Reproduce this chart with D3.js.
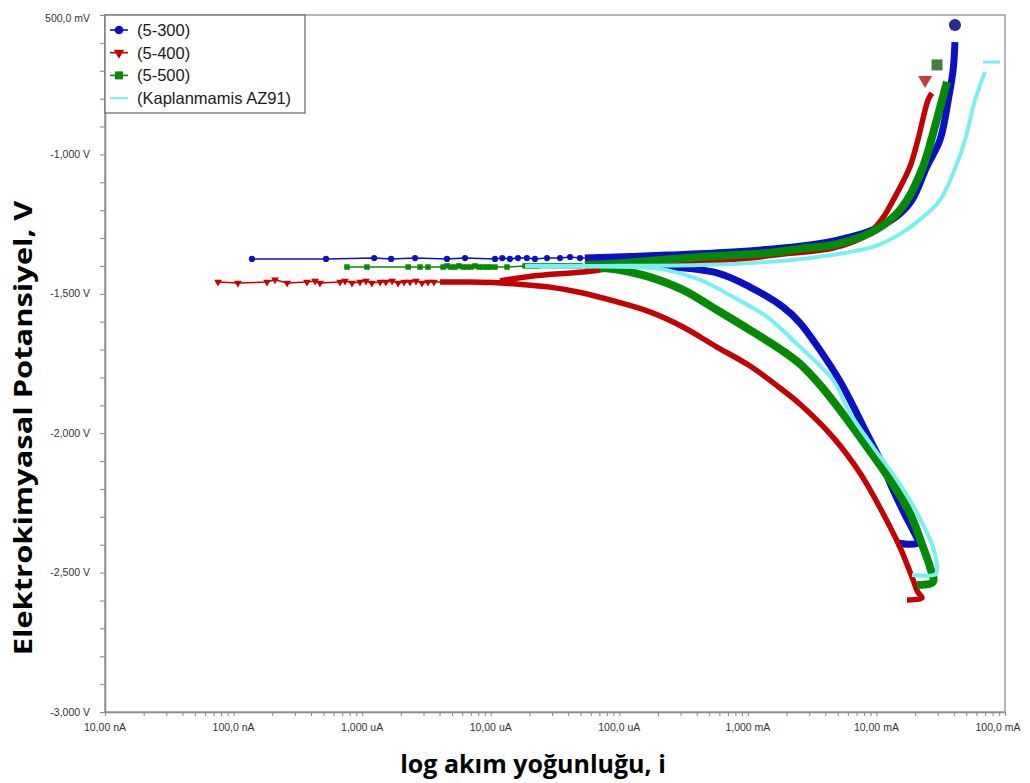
<!DOCTYPE html>
<html>
<head>
<meta charset="utf-8">
<script src="https://cdn.jsdelivr.net/npm/d3@7"></script>
<style>
  body { margin: 0; background: #fff; }
  svg { display: block; }
</style>
</head>
<body>
<svg id="chart" width="1030" height="783"></svg>
<script>
// Potentiodynamic polarisation curves: [current (A), potential (V)]
const seriesNames = ["(5-300)", "(5-400)", "(5-500)", "(Kaplanmamis AZ91)"];

// 5-300 coating
const sparse300 = [[1.39e-7,-1.375],[5.24e-7,-1.375],[1.24e-6,-1.372],[1.68e-6,-1.375],[2.58e-6,-1.372],
  [4.57e-6,-1.375],[6.31e-6,-1.372],[1.08e-5,-1.375],[1.23e-5,-1.372],[1.41e-5,-1.375],[1.63e-5,-1.372],
  [1.91e-5,-1.372],[2.21e-5,-1.375],[2.74e-5,-1.372],[3.46e-5,-1.372],[4.14e-5,-1.368],[4.94e-5,-1.372]];
const anodic300 = [[5.40e-5,-1.372],[2.35e-4,-1.361],[7.66e-4,-1.350],[2.55e-3,-1.329],[4.59e-3,-1.311],
  [8.91e-3,-1.275],[1.45e-2,-1.221],[1.89e-2,-1.164],[2.46e-2,-1.045],[3.12e-2,-0.948],[3.62e-2,-0.805],
  [3.95e-2,-0.697],[4.08e-2,-0.597]];
const cathodic300 = [[7.08e-5,-1.386],[1.73e-4,-1.397],[5.75e-4,-1.425],[1.04e-3,-1.476],[1.87e-3,-1.547],
  [2.55e-3,-1.605],[3.64e-3,-1.702],[5.14e-3,-1.809],[6.54e-3,-1.899],[8.30e-3,-1.995],[1.07e-2,-2.096],
  [1.35e-2,-2.204],[1.67e-2,-2.293],[1.92e-2,-2.347],[2.10e-2,-2.394],[1.45e-2,-2.394]];

// 5-400 coating
const sparse400 = [[7.57e-8,-1.458],[1.08e-7,-1.461],[1.82e-7,-1.458],[2.10e-7,-1.450],[2.61e-7,-1.461],
  [3.72e-7,-1.458],[4.30e-7,-1.454],[4.70e-7,-1.461],[6.73e-7,-1.458],[7.36e-7,-1.454],[8.34e-7,-1.461],
  [9.62e-7,-1.458],[1.07e-6,-1.454],[1.19e-6,-1.461],[1.38e-6,-1.458],[1.53e-6,-1.458],[1.71e-6,-1.454],
  [1.90e-6,-1.461],[2.12e-6,-1.458],[2.36e-6,-1.458],[2.62e-6,-1.454],[2.92e-6,-1.461],[3.25e-6,-1.458],
  [3.62e-6,-1.458]];
const anodic400 = [[1.18e-5,-1.454],[2.13e-5,-1.436],[5.22e-5,-1.422],[9.59e-5,-1.407],[3.13e-4,-1.390],
  [1.04e-3,-1.372],[1.87e-3,-1.357],[4.59e-3,-1.336],[8.45e-3,-1.289],[1.12e-2,-1.228],[1.35e-2,-1.164],
  [1.82e-2,-1.045],[2.10e-2,-0.948],[2.52e-2,-0.805],[2.70e-2,-0.780]];
const cathodic400 = [[4.04e-6,-1.458],[6.90e-6,-1.458],[1.18e-5,-1.461],[1.60e-5,-1.465],[2.89e-5,-1.476],
  [5.22e-5,-1.497],[9.59e-5,-1.529],[1.73e-4,-1.565],[3.13e-4,-1.619],[5.75e-4,-1.691],[1.04e-3,-1.759],
  [1.78e-3,-1.838],[2.55e-3,-1.896],[4.59e-3,-2.014],[7.45e-3,-2.143],[1.12e-2,-2.286],[1.52e-2,-2.408],
  [1.89e-2,-2.516],[2.10e-2,-2.570],[2.26e-2,-2.591],[1.73e-2,-2.598]];

// 5-500 coating
const sparse500 = [[7.62e-7,-1.404],[1.09e-6,-1.404],[2.28e-6,-1.404],[2.82e-6,-1.404],[3.25e-6,-1.404],
  [4.26e-6,-1.404],[4.57e-6,-1.400],[4.91e-6,-1.404],[5.27e-6,-1.404],[5.66e-6,-1.400],[6.09e-6,-1.404],
  [6.54e-6,-1.404],[7.03e-6,-1.404],[7.55e-6,-1.400],[8.11e-6,-1.404],[8.71e-6,-1.404],[9.36e-6,-1.404],
  [9.87e-6,-1.404],[1.08e-5,-1.404],[1.34e-5,-1.404],[1.85e-5,-1.400],[2.02e-5,-1.400],[2.21e-5,-1.400],
  [2.42e-5,-1.400],[2.64e-5,-1.400],[2.89e-5,-1.400],[3.16e-5,-1.400],[3.46e-5,-1.400],[3.78e-5,-1.400],
  [4.14e-5,-1.400],[4.52e-5,-1.400],[4.94e-5,-1.400]];
const anodic500 = [[5.40e-5,-1.397],[1.01e-4,-1.390],[4.25e-4,-1.368],[1.41e-3,-1.354],[2.55e-3,-1.339],
  [4.59e-3,-1.325],[8.91e-3,-1.282],[1.35e-2,-1.225],[1.73e-2,-1.164],[2.30e-2,-1.045],[2.67e-2,-0.948],
  [3.24e-2,-0.805],[3.54e-2,-0.740]];
const cathodic500 = [[7.08e-5,-1.407],[1.01e-4,-1.415],[1.73e-4,-1.440],[3.13e-4,-1.486],[5.75e-4,-1.558],
  [1.04e-3,-1.630],[1.87e-3,-1.705],[2.55e-3,-1.752],[3.64e-3,-1.827],[5.21e-3,-1.917],[8.45e-3,-2.049],
  [1.28e-2,-2.168],[1.82e-2,-2.286],[2.30e-2,-2.408],[2.61e-2,-2.480],[2.75e-2,-2.534],[2.07e-2,-2.544]];

// Uncoated AZ91
const sparseAZ91 = [];
const anodicAZ91 = [[1.85e-5,-1.400],[7.08e-5,-1.400],[4.25e-4,-1.397],[1.41e-3,-1.386],[3.45e-3,-1.368],
  [9.40e-3,-1.332],[1.52e-2,-1.286],[2.30e-2,-1.225],[3.12e-2,-1.164],[4.13e-2,-1.045],[4.89e-2,-0.948],
  [5.85e-2,-0.805],[6.98e-2,-0.704]];
const cathodicAZ91 = [[2.42e-5,-1.404],[1.28e-4,-1.404],[2.35e-4,-1.415],[4.25e-4,-1.450],[7.66e-4,-1.511],
  [1.41e-3,-1.583],[2.55e-3,-1.691],[4.59e-3,-1.809],[6.22e-3,-1.928],[9.40e-3,-2.049],[1.45e-2,-2.168],
  [2.07e-2,-2.286],[2.75e-2,-2.408],[2.96e-2,-2.480],[2.90e-2,-2.505],[1.89e-2,-2.509]];

// Series end markers at the top right
const endMarkers = [[4.08e-2,-0.536],[2.39e-2,-0.733],[2.96e-2,-0.679],[7.85e-2,-0.669]];

// Axis ticks
const xMajorTicks = [1e-8,1e-7,1e-6,1e-5,1e-4,1e-3,1e-2,1e-1];
const xTickLabels = ["10,00 nA","100,0 nA","1,000 uA","10,00 uA","100,0 uA","1,000 mA","10,00 mA","100,0 mA"];
const yMajorTicks = [-3.0,-2.5,-2.0,-1.5,-1.0,-0.5];
const yTickLabels = ["-3,000 V","-2,500 V","-2,000 V","-1,500 V","-1,000 V","500,0 mV"];

const series = [
  {name: seriesNames[0], sparse: sparse300, anodic: anodic300, cathodic: cathodic300,
   color: "#0c10c4", band: 7, symbol: d3.symbolCircle, size: 30, rot: 0, end: "#2b2b96"},
  {name: seriesNames[1], sparse: sparse400, anodic: anodic400, cathodic: cathodic400,
   color: "#c40000", band: 5.5, symbol: d3.symbolTriangle, size: 26, rot: 180, end: "#c43c3c"},
  {name: seriesNames[2], sparse: sparse500, anodic: anodic500, cathodic: cathodic500,
   color: "#058a05", band: 8, symbol: d3.symbolSquare, size: 30, rot: 0, end: "#437f3f"},
  {name: seriesNames[3], sparse: sparseAZ91, anodic: anodicAZ91, cathodic: cathodicAZ91,
   color: "#78f0f0", band: 4, symbol: null, size: 0, rot: 0, end: "#78f0f0"}
];

const svg = d3.select("#chart");
const plotLeft = 105, plotRight = 1005, plotTop = 15, plotBottom = 712;

const x = d3.scaleLog().domain([1e-8, 1e-1]).range([plotLeft, plotRight]);
const y = d3.scaleLinear().domain([-3, -0.5]).range([plotBottom, plotTop]);

// plot frame
svg.append("rect")
  .attr("x", plotLeft).attr("y", plotTop)
  .attr("width", plotRight - plotLeft).attr("height", plotBottom - plotTop)
  .attr("fill", "none").attr("stroke", "#a0a0a0").attr("stroke-width", 1.5);

// y axis: minor ticks every 100 mV
const yMinor = d3.range(0, 26).map(i => -3 + i * 0.1);
const yAxis = svg.append("g").attr("transform", `translate(${plotLeft},0)`)
  .call(d3.axisLeft(y).tickValues(yMinor).tickSize(5).tickSizeOuter(0).tickFormat(""));
yAxis.select(".domain").attr("stroke", "#8c8c8c").attr("stroke-width", 1.6);
yAxis.selectAll(".tick line").attr("stroke", "#8c8c8c").attr("stroke-width", 1.1);

svg.append("g").selectAll("text").data(yMajorTicks).join("text")
  .attr("x", 90)
  .attr("y", d => Math.max(y(d), 18))
  .attr("dy", "0.35em")
  .attr("text-anchor", "end")
  .attr("font-family", "Liberation Sans, Arial, sans-serif")
  .attr("font-size", 10.5)
  .attr("fill", "#333")
  .text((d, i) => yTickLabels[i]);

// x axis: log minor ticks
const xMinor = x.ticks();
const xAxis = svg.append("g").attr("transform", `translate(0,${plotBottom})`)
  .call(d3.axisBottom(x).tickValues(xMinor).tickSize(4).tickSizeOuter(0).tickFormat(""));
xAxis.select(".domain").attr("stroke", "#8c8c8c").attr("stroke-width", 1.6);
xAxis.selectAll(".tick line").attr("stroke", "#8c8c8c").attr("stroke-width", 1.1);

svg.append("g").selectAll("text").data(xMajorTicks).join("text")
  .attr("x", d => Math.min(x(d), 998))
  .attr("y", 731)
  .attr("text-anchor", "middle")
  .attr("font-family", "Liberation Sans, Arial, sans-serif")
  .attr("font-size", 10.5)
  .attr("fill", "#333")
  .text((d, i) => xTickLabels[i]);

// curves
const line = d3.line().x(d => x(d[0])).y(d => y(d[1])).curve(d3.curveCatmullRom.alpha(0.5));
const thin = d3.line().x(d => x(d[0])).y(d => y(d[1]));

const plot = svg.append("g");
series.forEach(s => {
  const g = plot.append("g");
  if (s.sparse.length) {
    g.append("path").attr("d", thin(s.sparse.concat([s.anodic[0]])))
      .attr("fill", "none").attr("stroke", s.color).attr("stroke-width", 1.5);
  }
  [s.cathodic, s.anodic].forEach(branch => {
    g.append("path").attr("d", line(branch))
      .attr("fill", "none").attr("stroke", s.color)
      .attr("stroke-width", s.band)
      .attr("stroke-linejoin", "round").attr("stroke-linecap", "butt");
  });
  if (s.symbol) {
    g.selectAll("path.mk").data(s.sparse).join("path").attr("class", "mk")
      .attr("d", d3.symbol().type(s.symbol).size(s.size))
      .attr("transform", d => `translate(${x(d[0])},${y(d[1])}) rotate(${s.rot})`)
      .attr("fill", s.color);
  }
});

// end markers
series.forEach((s, i) => {
  const d = endMarkers[i];
  if (s.symbol) {
    const size = s.symbol === d3.symbolCircle ? 115 : (s.symbol === d3.symbolSquare ? 121 : 85);
    svg.append("path")
      .attr("d", d3.symbol().type(s.symbol).size(size))
      .attr("transform", `translate(${x(d[0])},${y(d[1])}) rotate(${s.rot})`)
      .attr("fill", s.end);
  } else {
    svg.append("line")
      .attr("x1", x(d[0]) - 8.5).attr("x2", x(d[0]) + 8.5)
      .attr("y1", y(d[1])).attr("y2", y(d[1]))
      .attr("stroke", s.end).attr("stroke-width", 3);
  }
});

// legend
const legend = svg.append("g");
legend.append("rect")
  .attr("x", 105).attr("y", 15).attr("width", 200).attr("height", 98)
  .attr("fill", "#fff").attr("stroke", "#707070").attr("stroke-width", 1.3);
series.forEach((s, i) => {
  const cy = 30 + i * 22.7;
  legend.append("line").attr("x1", 110).attr("x2", 128).attr("y1", cy).attr("y2", cy)
    .attr("stroke", s.color).attr("stroke-width", s.symbol ? 1.6 : 2);
  if (s.symbol) {
    const size = s.symbol === d3.symbolCircle ? 60 : (s.symbol === d3.symbolSquare ? 64 : 48);
    legend.append("path")
      .attr("d", d3.symbol().type(s.symbol).size(size))
      .attr("transform", `translate(119,${cy}) rotate(${s.rot})`)
      .attr("fill", s.color);
  }
  legend.append("text")
    .attr("x", 137).attr("y", cy).attr("dy", "0.36em")
    .attr("font-family", "Liberation Sans, Arial, sans-serif")
    .attr("font-size", 16.5).attr("fill", "#1a1a1a")
    .text(s.name);
});

// axis titles
svg.append("text")
  .attr("x", 533).attr("y", 773)
  .attr("text-anchor", "middle")
  .attr("font-family", "Open Sans, sans-serif").attr("font-weight", 700)
  .attr("font-size", 25).attr("fill", "#000")
  .text("log akım yoğunluğu, i");

// vertical title, stretched along its length to span the axis
const yTitle = svg.append("text")
  .attr("text-anchor", "middle")
  .attr("font-family", "Open Sans, sans-serif").attr("font-weight", 700)
  .attr("font-size", 25).attr("fill", "#000")
  .text("Elektrokimyasal Potansiyel, V");
const naturalLen = yTitle.node().getComputedTextLength();
const stretch = 455 / naturalLen;
yTitle.attr("transform", `translate(32,428) rotate(-90) scale(${stretch},1)`);
</script>
</body>
</html>
